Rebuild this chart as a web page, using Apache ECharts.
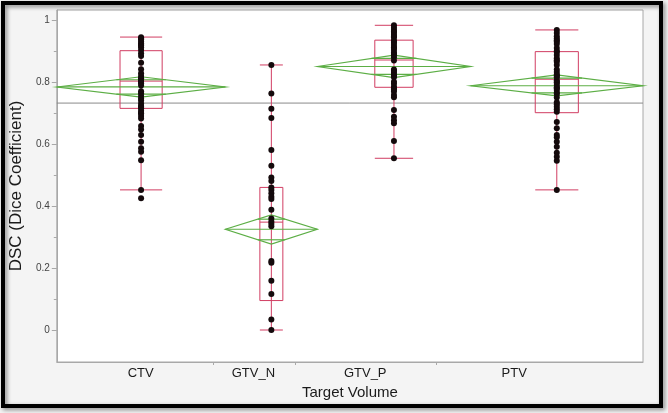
<!DOCTYPE html>
<html>
<head>
<meta charset="utf-8">
<script src="https://cdn.jsdelivr.net/npm/echarts@6/dist/echarts.min.js"></script>
<style>
html,body{margin:0;padding:0;background:#f2f2f2;}
#c{width:668px;height:413px;}
</style>
</head>
<body>
<div id="c"></div>
<script>
// ---------- DATA ----------
const categories = ['CTV', 'GTV_N', 'GTV_P', 'PTV'];
// sample sizes (JMP draws group widths proportional to n)
const groupN = [44, 24, 40, 45];

const ctvValues = [0.944, 0.940, 0.938, 0.931, 0.925, 0.920, 0.918, 0.912, 0.903, 0.893, 0.884, 0.862,
  0.841, 0.828, 0.819, 0.812, 0.810, 0.803, 0.800, 0.796, 0.789, 0.770, 0.764, 0.755, 0.747, 0.740,
  0.731, 0.723, 0.720, 0.715, 0.707, 0.700, 0.699, 0.690, 0.682, 0.658, 0.647, 0.629, 0.607, 0.586,
  0.575, 0.548, 0.452, 0.425];
const gtvNValues = [0.855, 0.763, 0.714, 0.684, 0.581, 0.530, 0.492, 0.481, 0.460, 0.452, 0.441, 0.430,
  0.423, 0.388, 0.360, 0.350, 0.343, 0.335, 0.223, 0.217, 0.159, 0.116, 0.034, 0.000];
const gtvPValues = [0.983, 0.975, 0.968, 0.963, 0.959, 0.952, 0.948, 0.944, 0.935, 0.930, 0.927, 0.919,
  0.912, 0.910, 0.903, 0.895, 0.890, 0.887, 0.880, 0.869, 0.840, 0.836, 0.830, 0.823, 0.820, 0.815,
  0.801, 0.794, 0.785, 0.780, 0.776, 0.769, 0.758, 0.751, 0.710, 0.688, 0.677, 0.667, 0.610, 0.554];
const ptvValues = [0.968, 0.958, 0.948, 0.940, 0.935, 0.930, 0.923, 0.910, 0.900, 0.897, 0.887, 0.877,
  0.870, 0.865, 0.855, 0.840, 0.832, 0.824, 0.820, 0.815, 0.806, 0.800, 0.798, 0.790, 0.783, 0.780,
  0.774, 0.765, 0.761, 0.750, 0.735, 0.728, 0.720, 0.712, 0.704, 0.671, 0.651, 0.629, 0.622, 0.607,
  0.591, 0.572, 0.559, 0.546, 0.452];
const groupValues = [ctvValues, gtvNValues, gtvPValues, ptvValues];

// box plot: [lower whisker, Q1, median, Q3, upper whisker]
const boxStats = [
  [0.452, 0.715, 0.803, 0.901, 0.945],
  [0.000, 0.095, 0.348, 0.460, 0.855],
  [0.554, 0.783, 0.871, 0.935, 0.983],
  [0.452, 0.701, 0.809, 0.898, 0.968]
];
// means diamonds: [lower 95% CI, mean, upper 95% CI]
const meanStats = [
  [0.751, 0.784, 0.817],
  [0.277, 0.325, 0.371],
  [0.814, 0.850, 0.887],
  [0.755, 0.788, 0.823]
];
const grandMean = 0.732;

const yTickValues = [0, 0.2, 0.4, 0.6, 0.8, 1];
const yMinorTickValues = [0.1, 0.3, 0.5, 0.7, 0.9];

// ---------- LAYOUT (axis-unit positions of JMP's x labels / ticks) ----------
const xLabelPos = [21.9, 51.3, 80.5, 119.4];
const xTickPos = [40.9, 62.3, 99.0];

// group extents derived from sample sizes
const bounds = [];
let acc = 0;
groupN.forEach(n => { bounds.push([acc, acc + n]); acc += n; });
const total = acc;

const scatterData = [];
groupValues.forEach((vals, i) => {
  const xc = (bounds[i][0] + bounds[i][1]) / 2;
  vals.forEach(v => scatterData.push([xc, v]));
});

const customData = categories.map((c, i) => [bounds[i][0], bounds[i][1]].concat(boxStats[i], meanStats[i]));

const RED = '#d13d62';
const GREEN = '#5cae45';

const chart = echarts.init(document.getElementById('c'), null, {renderer: 'canvas'});
chart.setOption({
  animation: false,
  backgroundColor: '#f4f4f4',
  textStyle: {fontFamily: 'Arial, "Liberation Sans", sans-serif'},
  grid: {left: 56, right: 25, top: 10, bottom: 51, show: true, backgroundColor: '#ffffff', borderColor: '#a8a8a8', borderWidth: 1},
  xAxis: {
    type: 'value', min: 0, max: total,
    name: 'Target Volume', nameLocation: 'middle', nameGap: 23,
    nameTextStyle: {fontSize: 15, color: '#1a1a1a'},
    axisLine: {show: true, onZero: false, lineStyle: {color: '#a8a8a8'}},
    axisTick: {show: true, customValues: xTickPos, length: 3, lineStyle: {color: '#a8a8a8'}},
    axisLabel: {
      customValues: xLabelPos, fontSize: 13, color: '#1a1a1a', margin: 5,
      formatter: v => { const i = xLabelPos.indexOf(v); return i >= 0 ? categories[i] : ''; }
    },
    splitLine: {show: false}
  },
  yAxis: [{
    type: 'value', min: -0.1032, max: 1.0323,
    name: 'DSC (Dice Coefficient)', nameLocation: 'middle', nameGap: 20,
    nameTextStyle: {fontSize: 17, color: '#1a1a1a'},
    axisLine: {show: true, lineStyle: {color: '#a8a8a8'}},
    axisTick: {show: true, customValues: yTickValues, length: 5, lineStyle: {color: '#a8a8a8'}},
    axisLabel: {customValues: yTickValues, fontSize: 10, color: '#444', margin: 7,
      formatter: v => String(Math.round(v * 10) / 10)},
    splitLine: {show: false}
  }, {
    type: 'value', min: -0.1032, max: 1.0323, position: 'left',
    axisLine: {show: false},
    axisTick: {show: true, customValues: yMinorTickValues, length: 3, lineStyle: {color: '#a8a8a8'}},
    axisLabel: {show: false},
    splitLine: {show: false}
  }],
  series: [
    {
      type: 'line', yAxisIndex: 0, symbol: 'none', silent: true,
      data: [[0, grandMean], [total, grandMean]],
      lineStyle: {color: '#8a8a8a', width: 1}, z: 1
    },
    {
      type: 'custom', z: 2,
      data: customData,
      renderItem: function (params, api) {
        const x0 = api.value(0), x1 = api.value(1);
        const xc = (x0 + x1) / 2;
        const lo = api.value(2), q1 = api.value(3), med = api.value(4), q3 = api.value(5), hi = api.value(6);
        const ciL = api.value(7), mean = api.value(8), ciH = api.value(9);
        const P = (x, y) => api.coord([x, y]);
        const bw = (x1 - x0) / 8;
        const pL = P(xc - bw, 0)[0], pR = P(xc + bw, 0)[0], pC = P(xc, 0)[0];
        const left = P(x0, 0)[0], right = P(x1, 0)[0];
        const yq1 = P(0, q1)[1], yq3 = P(0, q3)[1], ymed = P(0, med)[1], ylo = P(0, lo)[1], yhi = P(0, hi)[1];
        const ym = P(0, mean)[1], yciL = P(0, ciL)[1], yciH = P(0, ciH)[1];
        const rs = {stroke: RED, lineWidth: 1, fill: null};
        const gs = {stroke: GREEN, lineWidth: 1.2, fill: null};
        const k = Math.SQRT1_2;
        const yo1 = ym + (yciH - ym) * k, yo2 = ym + (yciL - ym) * k;
        const ow = (right - left) * (1 - k) / 2;
        return {
          type: 'group',
          children: [
            {type: 'line', shape: {x1: pC, y1: yhi, x2: pC, y2: ylo}, style: rs},
            {type: 'line', shape: {x1: pL, y1: yhi, x2: pR, y2: yhi}, style: rs},
            {type: 'line', shape: {x1: pL, y1: ylo, x2: pR, y2: ylo}, style: rs},
            {type: 'rect', shape: {x: pL, y: yq3, width: pR - pL, height: yq1 - yq3}, style: rs},
            {type: 'line', shape: {x1: pL, y1: ymed, x2: pR, y2: ymed}, style: rs},
            {type: 'polygon', shape: {points: [[left, ym], [pC, yciH], [right, ym], [pC, yciL]]}, style: gs},
            {type: 'line', shape: {x1: left, y1: ym, x2: right, y2: ym}, style: gs},
            {type: 'line', shape: {x1: pC - ow, y1: yo1, x2: pC + ow, y2: yo1}, style: gs},
            {type: 'line', shape: {x1: pC - ow, y1: yo2, x2: pC + ow, y2: yo2}, style: gs}
          ]
        };
      }
    },
    {
      type: 'scatter', z: 3, symbolSize: 6,
      itemStyle: {color: '#140a0c', opacity: 1},
      data: scatterData
    }
  ],
  graphic: [{
    type: 'rect', silent: true, z: 100,
    shape: {x: 3, y: 3, width: 658, height: 403},
    style: {fill: null, stroke: '#000', lineWidth: 4,
      shadowBlur: 4, shadowColor: 'rgba(0,0,0,0.45)', shadowOffsetX: 2, shadowOffsetY: 2}
  }]
});
</script>
</body>
</html>
